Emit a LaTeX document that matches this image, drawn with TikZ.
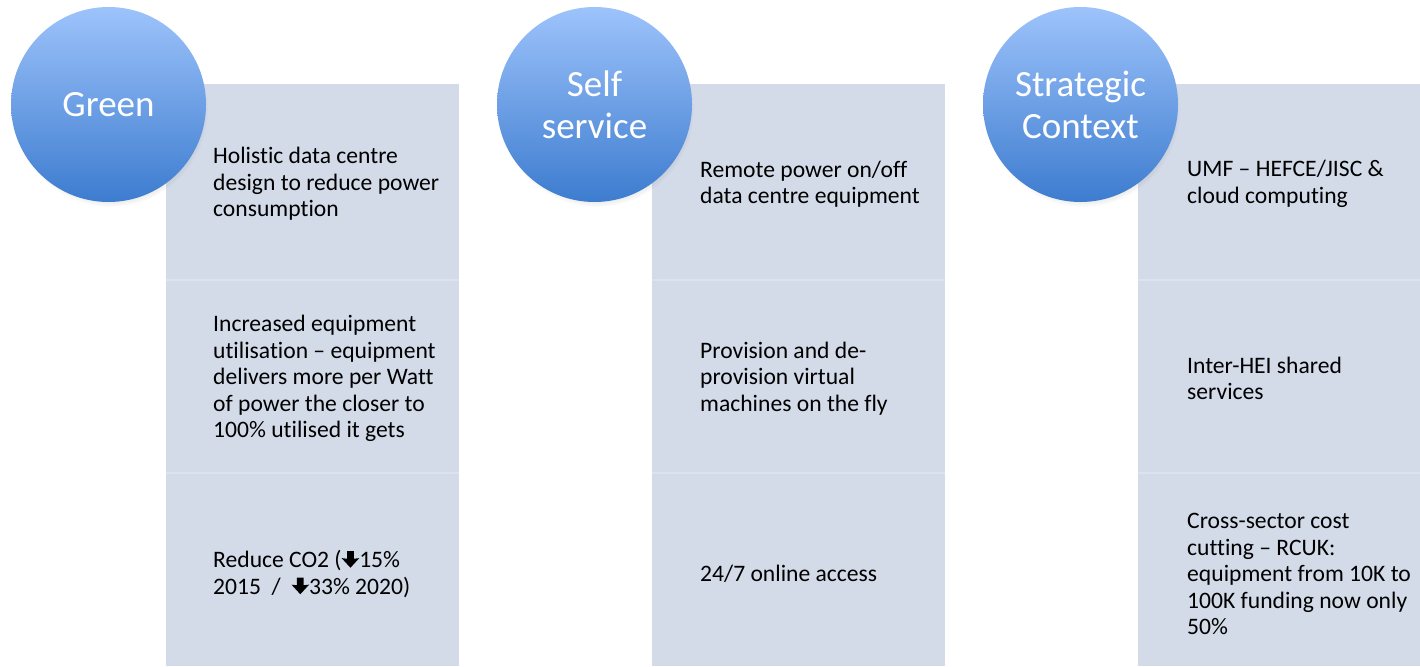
\documentclass[tikz,border=0pt]{standalone}
\usepackage{fontspec}
\setmainfont{Carlito}[RawFeature=-liga]
\usetikzlibrary{shadows}
\definecolor{panelfill}{HTML}{D3DBE9}
\definecolor{divline}{HTML}{DCE2EE}
\definecolor{circtop}{HTML}{9DC3FB}
\definecolor{circbot}{HTML}{3D7CCF}
\newcommand{\darr}{\tikz[baseline=0pt,x=1pt,y=1pt]\fill[black] (-3.4,16.5)--(3.4,16.5)--(3.4,9)--(8.8,9.6)--(0,0)--(-8.8,9.6)--(-3.4,9)--cycle;}
\tikzset{
  panel/.style={fill=panelfill, draw=none},
  divider/.style={draw=divline, line width=1.5pt},
  bubble/.style={circle, minimum size=195pt, inner sep=0pt, top color=circtop, bottom color=circbot, draw=none,
    circular drop shadow={shadow xshift=2pt, shadow yshift=-5pt, shadow scale=1.0, opacity=0.35},
    text=white, font=\fontsize{37}{42}\selectfont, align=center},
  body/.style={anchor=west, align=left, inner sep=0pt, text=black, font=\fontsize{23.6}{26.5}\selectfont}
}
\begin{document}
\begin{tikzpicture}[x=1pt,y=-1pt]
\useasboundingbox (0,0) rectangle (1420,666);
% panels
\fill[panel] (166,84) rectangle (459,666);
\fill[panel] (652,84) rectangle (945,666);
\fill[panel] (1138,84) rectangle (1420,666);
\foreach \xa/\xb in {166/459,652/945,1138/1420}{
  \draw[divider] (\xa,280) -- (\xb,280);
  \draw[divider] (\xa,473) -- (\xb,473);
}
% circles
\node[bubble] (green) at (108.5,104.5) {Green};
\node[bubble] (self) at (594.5,104.5) {Self\\service};
\node[bubble] (strat) at (1080.5,104.5) {Strategic\\Context};
% green column
\node[body] (g1) at (213,184) {Holistic data centre\\design to reduce power\\consumption};
\node[body] (g2) at (213,378.5) {Increased equipment\\utilisation -- equipment\\delivers more per Watt\\of power the closer to\\100\% utilised it gets};
\node[body] (g3) at (213,574) {Reduce CO2 (\darr15\%\\2015~ / ~\darr33\% 2020)};
% self service column
\node[body] (s1) at (700,184) {Remote power on/off\\data centre equipment};
\node[body] (s2) at (700,378.5) {Provision and de-\\provision virtual\\machines on the fly};
\node[body] (s3) at (700,574) {24/7 online access};
% strategic column
\node[body] (c1) at (1187,184) {UMF -- HEFCE/JISC \&\\cloud computing};
\node[body] (c2) at (1187,378.5) {Inter-HEI shared\\services};
\node[body] (c3) at (1187,574) {Cross-sector cost\\cutting -- RCUK:\\equipment from 10K to\\100K funding now only\\50\%};
\end{tikzpicture}
\end{document}
